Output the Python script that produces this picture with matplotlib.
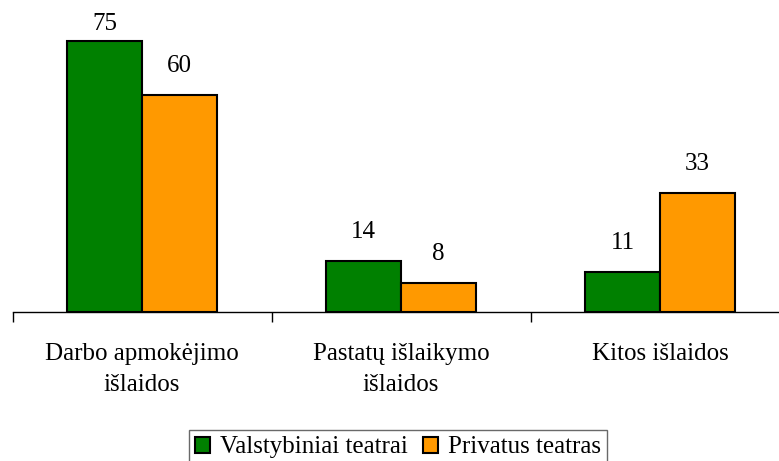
import numpy as np
import matplotlib
matplotlib.use('Agg')
import matplotlib.pyplot as plt

plt.rcParams['font.family'] = ['Liberation Serif', 'DejaVu Serif']

categories = ['Darbo apmokėjimo\nišlaidos', 'Pastatų išlaikymo\nišlaidos', 'Kitos išlaidos']
valstybiniai = [75, 14, 11]
privatus = [60, 8, 33]
series_names = ['Valstybiniai teatrai', 'Privatus teatras']

px = 3.61  # pixels per unit
fig = plt.figure(figsize=(7.79, 4.61), dpi=100)
# axis spans past the right edge, like the original
ax = fig.add_axes([12.5 / 779, 1 - 312 / 461, 777 / 779, 312 / 461])

x = np.arange(len(categories))
w = 0.288
b1 = ax.bar(x - w / 2, valstybiniai, w, color='#008000', edgecolor='black', linewidth=1.5,
            label=series_names[0])
b2 = ax.bar(x + w / 2, privatus, w, color='#FF9900', edgecolor='black', linewidth=1.5,
            label=series_names[1])

ytop = 312 / px
for bars, vals in [(b1, valstybiniai), (b2, privatus)]:
    for r, v in zip(bars, vals):
        # labels sit above bars, pushed down when near the top edge
        yl = min(v + 29 / px, ytop - 24 / px)
        ax.text(r.get_x() + r.get_width() / 2, yl, str(v), ha='center', va='center',
                fontsize=18)

ax.set_xlim(-0.5, 2.5)
ax.set_ylim(0, ytop)

for s in ['top', 'right', 'left']:
    ax.spines[s].set_visible(False)
ax.spines['bottom'].set_linewidth(1)
ax.set_yticks([])

ax.set_xticks(x)
ax.set_xticklabels(categories, fontsize=18, linespacing=1.55)
ax.tick_params(axis='x', which='major', length=0, pad=22)
ax.set_xticks([-0.5, 0.5, 1.5, 2.5], minor=True)
ax.tick_params(axis='x', which='minor', length=7, width=1)

fig.legend(loc='lower center', bbox_to_anchor=(398 / 779, -0.008), ncol=2, fontsize=18,
           frameon=True, fancybox=False, edgecolor='#444444', handlelength=0.6,
           handleheight=0.6, handletextpad=0.4, columnspacing=0.6, borderpad=0.25,
           borderaxespad=0)

fig.savefig('out.png', dpi=100)
